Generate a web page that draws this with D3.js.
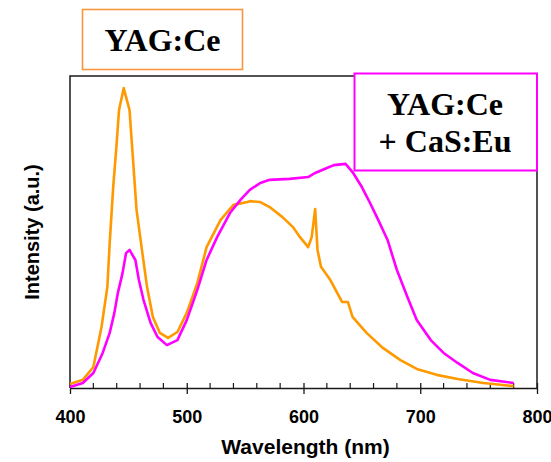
<!DOCTYPE html>
<html>
<head>
<meta charset="utf-8">
<script src="https://cdn.jsdelivr.net/npm/d3@7/dist/d3.min.js"></script>
<style>
  html, body { margin: 0; padding: 0; background: #fff; }
  svg { display: block; }
</style>
</head>
<body>
<svg id="chart" width="551" height="462"></svg>
<script>
// Emission spectra: YAG:Ce alone vs. YAG:Ce + CaS:Eu blend
const yagWavelength = [400, 411, 420, 427, 432, 434, 437, 440, 442, 446, 451, 454, 457, 462, 466, 471, 477, 484, 492, 500,
  509, 517, 529, 540, 552, 554, 563, 571, 582, 591, 597, 604, 607, 610, 612, 615, 623, 633, 638, 642,
  654, 668, 683, 697, 714, 732, 754, 780];
const yagIntensity = [1.3, 2.6, 6.7, 19.5, 32.3, 46.3, 64.2, 78.3, 88.8, 95.8, 88.8, 72.8, 56.9, 43.1, 32.3, 22.7, 17.6, 16.0, 17.9, 24.0,
  33.5, 45.0, 53.7, 58.5, 59.4, 59.7, 59.4, 57.8, 54.6, 51.4, 48.2, 45.0, 48.2, 57.2, 44.1, 38.7, 34.5, 27.5, 27.5, 22.7,
  17.6, 12.8, 8.9, 6.1, 4.2, 2.9, 1.6, 0.6];

const blendWavelength = [400, 411, 420, 428, 434, 438, 441, 445, 448, 451, 456, 459, 463, 469, 475, 483, 492, 500, 509, 517,
  526, 537, 546, 554, 563, 571, 588, 604, 610, 620, 626, 636, 642, 650, 657, 664, 672, 680, 689, 697,
  709, 720, 732, 745, 760, 780];
const blendIntensity = [0.3, 1.6, 4.8, 11.2, 17.6, 24.0, 30.4, 36.7, 43.1, 44.1, 40.9, 34.5, 28.1, 20.8, 16.3, 13.7, 15.3, 21.7, 31.3, 40.9,
  48.2, 55.9, 60.1, 63.3, 65.5, 66.5, 66.8, 67.4, 68.7, 70.3, 71.2, 71.6, 69.0, 64.2, 59.1, 53.7, 47.3, 37.7, 29.1, 21.7,
  15.3, 11.2, 8.0, 4.8, 2.6, 1.6];

const xTicks = [400, 500, 600, 700, 800];
const xMinorTicks = d3.range(400, 801, 20);
const xTitle = "Wavelength (nm)";
const yTitle = "Intensity (a.u.)";
const legendYag = ["YAG:Ce"];
const legendBlend = ["YAG:Ce", "+ CaS:Eu"];

const ORANGE = "#ff9900";
const MAGENTA = "#ff00ff";

const margin = { left: 70, right: 14, top: 75, bottom: 74 };
const W = 551, H = 462;
const plotW = W - margin.left - margin.right;
const plotH = H - margin.top - margin.bottom;

const svg = d3.select("#chart");

const x = d3.scaleLinear().domain([400, 800]).range([margin.left, margin.left + plotW]);
const y = d3.scaleLinear().domain([0, 100]).range([margin.top + plotH, margin.top]);

// Frame: left, top, right
svg.append("path")
  .attr("d", `M${x(400)},${y(0)}V${margin.top + 1}H${x(800)}V${y(0)}`)
  .attr("fill", "none")
  .attr("stroke", "#1a1a1a")
  .attr("stroke-width", 1.5);

// Minor ticks (inside only)
const axisG = svg.append("g").attr("transform", `translate(0,${y(0)})`);
axisG.selectAll("line.minor")
  .data(xMinorTicks.filter(d => d % 100 !== 0))
  .join("line")
  .attr("class", "minor")
  .attr("x1", d => x(d)).attr("x2", d => x(d))
  .attr("y1", 0).attr("y2", -5)
  .attr("stroke", "#1a1a1a").attr("stroke-width", 1.2);

// Bottom axis with major ticks crossing the baseline
const xAxis = d3.axisBottom(x).tickValues(xTicks).tickSizeInner(5).tickSizeOuter(0).tickPadding(17).tickFormat(d3.format("d"));
axisG.call(xAxis);
axisG.select(".domain").attr("stroke", "#1a1a1a").attr("stroke-width", 1.5);
axisG.selectAll(".tick line")
  .attr("y1", -5).attr("y2", 6)
  .attr("stroke", "#1a1a1a").attr("stroke-width", 1.3);
axisG.selectAll(".tick text")
  .attr("font-family", "Arial, 'Liberation Sans', sans-serif")
  .attr("font-weight", "bold")
  .attr("font-size", 18)
  .attr("fill", "#000");

// Axis titles
svg.append("text")
  .attr("x", (x(400) + x(800)) / 2 + 2)
  .attr("y", 454)
  .attr("text-anchor", "middle")
  .attr("font-family", "Arial, 'Liberation Sans', sans-serif")
  .attr("font-weight", "bold")
  .attr("font-size", 21)
  .text(xTitle);

svg.append("text")
  .attr("transform", "translate(39,232) rotate(-90)")
  .attr("text-anchor", "middle")
  .attr("font-family", "Arial, 'Liberation Sans', sans-serif")
  .attr("font-weight", "bold")
  .attr("font-size", 20)
  .text(yTitle);

// Spectra
const line = d3.line().x(d => x(d[0])).y(d => y(d[1]));

svg.append("path")
  .datum(d3.zip(yagWavelength, yagIntensity))
  .attr("d", line)
  .attr("fill", "none")
  .attr("stroke", ORANGE)
  .attr("stroke-width", 2.6)
  .attr("stroke-linejoin", "round");

svg.append("path")
  .datum(d3.zip(blendWavelength, blendIntensity))
  .attr("d", line)
  .attr("fill", "none")
  .attr("stroke", MAGENTA)
  .attr("stroke-width", 2.6)
  .attr("stroke-linejoin", "round");

// Label boxes
function labelBox(x0, y0, w, h, color, strokeW, lines, cx, baselines) {
  const g = svg.append("g");
  g.append("rect")
    .attr("x", x0).attr("y", y0).attr("width", w).attr("height", h)
    .attr("fill", "#fff")
    .attr("stroke", color)
    .attr("stroke-width", strokeW);
  g.selectAll("text")
    .data(lines)
    .join("text")
    .attr("x", cx)
    .attr("y", (d, i) => baselines[i])
    .attr("text-anchor", "middle")
    .attr("font-family", "'Times New Roman', 'Liberation Serif', serif")
    .attr("font-weight", "bold")
    .attr("font-size", 32)
    .attr("fill", "#000")
    .text(d => d);
}

labelBox(82.5, 9.5, 160, 60, "#f7963c", 1.6, legendYag, 162.5, [51]);
labelBox(354.5, 73.5, 182.5, 97, MAGENTA, 2, legendBlend, 445, [115, 152]);
</script>
</body>
</html>
